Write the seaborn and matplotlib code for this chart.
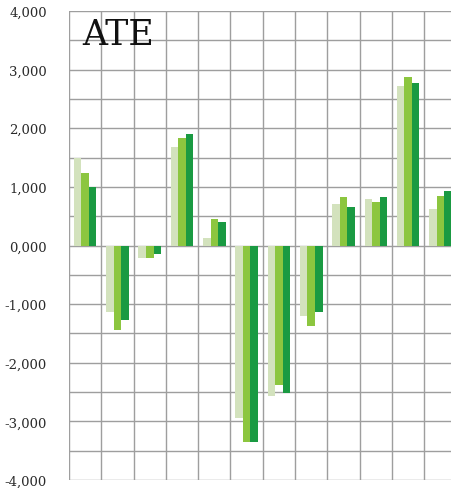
import numpy as np
import pandas as pd
import matplotlib
matplotlib.use("Agg")
import matplotlib.pyplot as plt
import seaborn as sns
from matplotlib.ticker import FuncFormatter, MultipleLocator

groups = ["G1", "G2", "G3", "G4", "G5", "G6", "G7", "G8", "G9", "G10", "G11", "G12"]
series_names = ["S1", "S2", "S3"]
s1 = [1500, -1130, -210, 1680, 120, -2940, -2570, -1210, 700, 800, 2720, 620]
s2 = [1230, -1440, -220, 1840, 450, -3360, -2380, -1370, 830, 740, 2880, 840]
s3 = [990, -1270, -140, 1910, 400, -3360, -2520, -1130, 660, 820, 2780, 930]
colors = ["#d3e2bd", "#8cc63f", "#1a9a42"]
title_text = "ATE"

df = pd.DataFrame({
    "group": groups * 3,
    "series": sum([[n] * len(groups) for n in series_names], []),
    "value": s1 + s2 + s3,
})

sns.set_style("white")
plt.rcParams["font.family"] = ["DejaVu Serif"]

fig = plt.figure(figsize=(4.52, 4.89), dpi=100)
ax = fig.add_axes([69 / 452, 8 / 489, 387.6 / 452, 469 / 489])

sns.barplot(data=df, x="group", y="value", hue="series", palette=colors,
            width=0.7, dodge=True, ax=ax, legend=False, saturation=1,
            linewidth=0, errorbar=None)

ax.set_xlim(-0.5, 11.5)
ax.set_ylim(-4000, 4000)
ax.set_xlabel("")
ax.set_ylabel("")
ax.set_xticks([])
ax.set_xticks(np.arange(-0.5, 12, 1), minor=True)
ax.yaxis.set_major_locator(MultipleLocator(1000))
ax.yaxis.set_minor_locator(MultipleLocator(500))
ax.yaxis.set_major_formatter(FuncFormatter(lambda v, p: f"{int(v):,}" if v != 0 else "0,000"))
ax.tick_params(axis="y", which="both", length=0, pad=16, labelsize=9.5, labelcolor="#2a2a2a")
ax.tick_params(axis="x", which="both", length=0)
ax.grid(True, which="both", axis="both", color="#9e9e9e", linewidth=1.0)
ax.set_axisbelow(True)
for s in ax.spines.values():
    s.set_visible(False)

ax.text(0.035, 0.988, title_text, transform=ax.transAxes, fontsize=25,
        ha="left", va="top", color="#111111")

fig.savefig("out.png", dpi=100)
